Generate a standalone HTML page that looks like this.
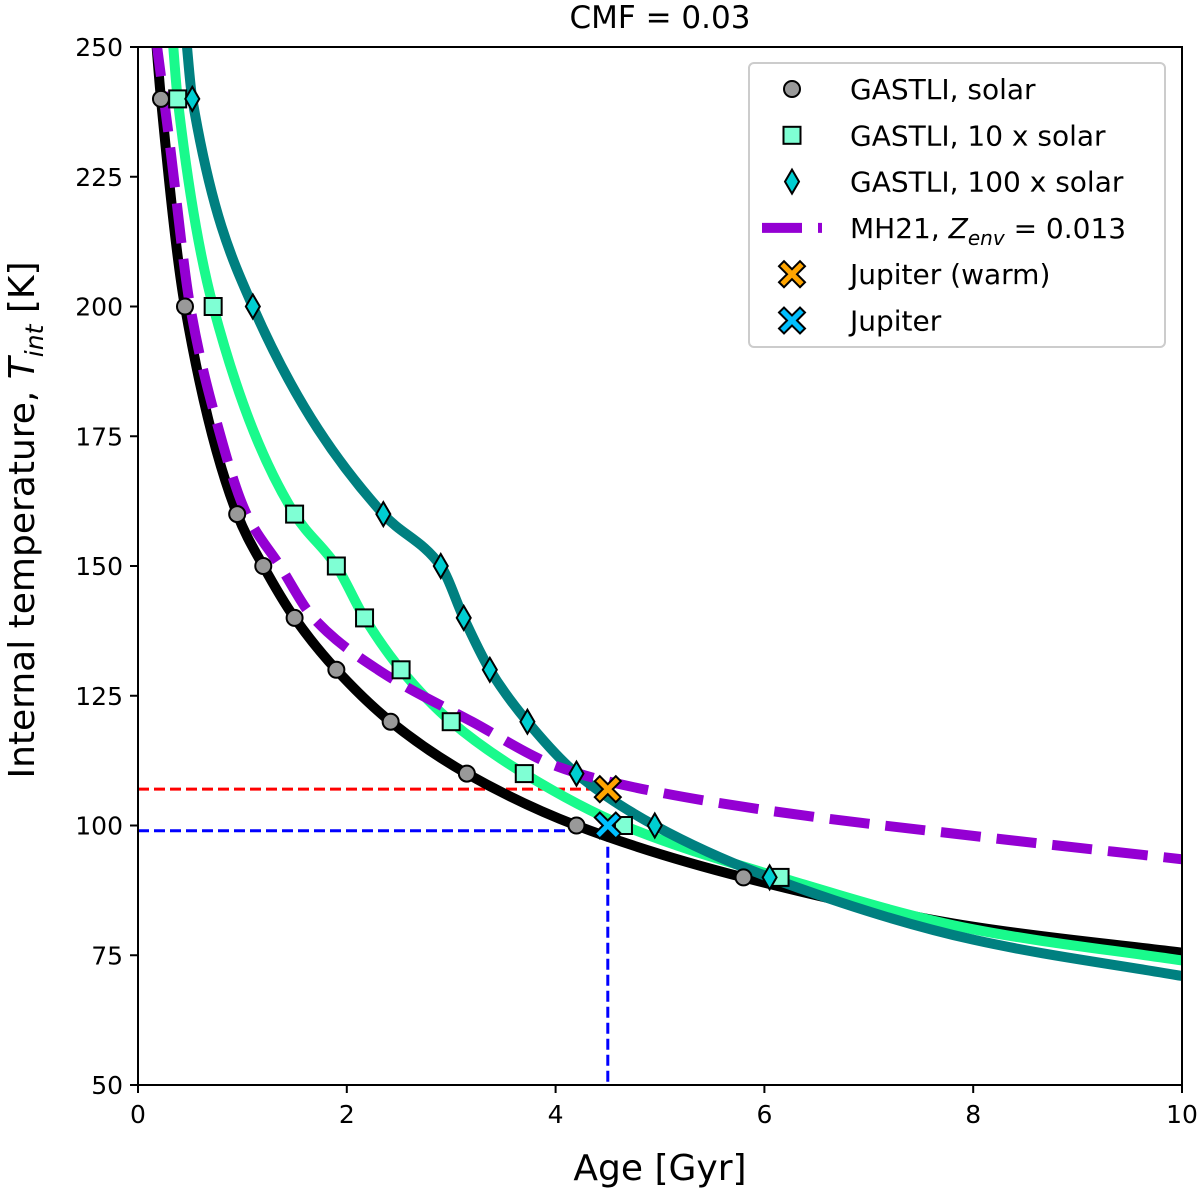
<!DOCTYPE html>
<html><head><meta charset="utf-8">
<style>
body{margin:0;background:#fff;}
svg{display:block;font-family:"DejaVu Sans","Liberation Sans",sans-serif;}
</style></head>
<body>
<svg id="chart" width="1200" height="1192" viewBox="0 0 1200 1192">
<defs><clipPath id="clip"><rect x="138" y="47" width="1044" height="1038"/></clipPath></defs>
<g id="plot" clip-path="url(#clip)"></g>
<g id="axes"></g>
<g id="legend"></g>
</svg>
<script>
// ---- data ----
const solarAge=[0.22,0.45,0.95,1.2,1.5,1.9,2.42,3.15,4.2,5.8];
const solarT=[240,200,160,150,140,130,120,110,100,90];
const x10Age=[0.38,0.72,1.5,1.9,2.17,2.52,3.0,3.7,4.65,6.15];
const x10T=[240,200,160,150,140,130,120,110,100,90];
const x100Age=[0.52,1.1,2.35,2.9,3.12,3.37,3.73,4.2,4.95,6.05];
const x100T=[240,200,160,150,140,130,120,110,100,90];
const solarLineAge=[0.17,0.22,0.45,0.95,1.2,1.5,1.9,2.42,3.15,4.2,5.8,8,10];
const solarLineT=[252,240,200,160,150,140,130,120,110,100,90,80.5,75.5];
const x10LineAge=[0.33,0.38,0.72,1.5,1.9,2.17,2.52,3.0,3.7,4.65,6.15,8,10];
const x10LineT=[252,240,200,160,150,140,130,120,110,100,90,80,74];
const x100LineAge=[0.46,0.52,1.1,2.35,2.9,3.12,3.37,3.73,4.2,4.95,6.05,8,10];
const x100LineT=[252,240,200,160,150,140,130,120,110,100,90,78,71];
const mhAge=[0.17,0.3,0.5,0.75,1.04,1.36,1.68,2.3,3.2,4,4.5,6,8,10];
const mhT=[252,232,200,178,160,150,140,130,120,111.5,108.5,103,98,93.5];
const jupAge=[4.5], jupWarmT=[107], jupT=[100];
const refAge=4.5, refWarm=107, refCold=99;
const xTicks=[0,2,4,6,8,10];
const yTicks=[50,75,100,125,150,175,200,225,250];

const NS="http://www.w3.org/2000/svg";
const X=v=>138+v*104.4;
const Y=v=>1085-(v-50)*5.19;
function mk(tag,attrs,parent){const e=document.createElementNS(NS,tag);for(const k in attrs)e.setAttribute(k,attrs[k]);parent.appendChild(e);return e;}
function smooth(ax,ay){
  const x=ax.map(X), y=ay.map(Y), n=x.length;
  const d=[],m=[];
  for(let i=0;i<n-1;i++)d.push((y[i+1]-y[i])/(x[i+1]-x[i]));
  m[0]=d[0];m[n-1]=d[n-2];
  for(let i=1;i<n-1;i++){
    if(d[i-1]*d[i]<=0)m[i]=0;
    else{const h0=x[i]-x[i-1],h1=x[i+1]-x[i];const w1=2*h1+h0,w2=h1+2*h0;m[i]=(w1+w2)/(w1/d[i-1]+w2/d[i]);}
  }
  let p="M"+x[0]+","+y[0];
  for(let i=0;i<n-1;i++){
    const h=(x[i+1]-x[i])/3;
    p+=` C${x[i]+h},${y[i]+m[i]*h} ${x[i+1]-h},${y[i+1]-m[i+1]*h} ${x[i+1]},${y[i+1]}`;
  }
  return p;
}
const plot=document.getElementById('plot');
const axes=document.getElementById('axes');
const leg=document.getElementById('legend');

let e=mk('line',{x1:X(0),x2:X(refAge),y1:Y(refWarm),y2:Y(refWarm),stroke:'#ff0000','stroke-width':3,'stroke-dasharray':'11 5'},plot);


e=mk('line',{x1:X(0),x2:X(refAge),y1:Y(refCold),y2:Y(refCold),stroke:'#0000ff','stroke-width':3,'stroke-dasharray':'11 5'},plot);


e=mk('line',{x1:X(refAge),x2:X(refAge),y1:Y(refCold),y2:Y(50),stroke:'#0000ff','stroke-width':3,'stroke-dasharray':'11 5'},plot);



e=mk('path',{d:smooth(solarLineAge,solarLineT),fill:'none',stroke:'#000','stroke-width':10},plot);


e=mk('path',{d:smooth(x10LineAge,x10LineT),fill:'none',stroke:'#19fa8c','stroke-width':10},plot);


e=mk('path',{d:smooth(x100LineAge,x100LineT),fill:'none',stroke:'#008080','stroke-width':10},plot);


e=mk('path',{d:smooth(mhAge,mhT),fill:'none',stroke:'#9400d3','stroke-width':10,'stroke-dasharray':'40 16'},plot);



function circle(cx,cy,p){return mk('circle',{cx:cx,cy:cy,r:8,fill:'#999','stroke':'#000','stroke-width':2},p);}
function square(cx,cy,p){return mk('rect',{x:cx-8.5,y:cy-8.5,width:17,height:17,fill:'#7fffd4',stroke:'#000','stroke-width':2},p);}
function diamond(cx,cy,p){return mk('path',{d:`M${cx},${cy-12} L${cx+7},${cy} L${cx},${cy+12} L${cx-7},${cy} Z`,fill:'#00ced1',stroke:'#000','stroke-width':2},p);}
function xmark(cx,cy,col,p){const s=8,w=5;return mk('path',{d:`M${cx-s-w},${cy-s} L${cx-s},${cy-s-w} L${cx},${cy-w} L${cx+s},${cy-s-w} L${cx+s+w},${cy-s} L${cx+w},${cy} L${cx+s+w},${cy+s} L${cx+s},${cy+s+w} L${cx},${cy+w} L${cx-s},${cy+s+w} L${cx-s-w},${cy+s} L${cx-w},${cy} Z`,fill:col,stroke:'#000','stroke-width':2},p);}

solarAge.forEach((a,i)=>{const m=circle(X(a),Y(solarT[i]),plot);

});
x10Age.forEach((a,i)=>{const m=square(X(a),Y(x10T[i]),plot);

});
x100Age.forEach((a,i)=>{const m=diamond(X(a),Y(x100T[i]),plot);

});
jupAge.forEach((a,i)=>{
 let m=xmark(X(a),Y(jupWarmT[i]),'#ffa500',plot);
 
 
 m=xmark(X(a),Y(jupT[i]),'#00bfff',plot);
 
 
});

e=mk('rect',{x:138,y:47,width:1044,height:1038,fill:'none',stroke:'#000','stroke-width':2},axes);


xTicks.forEach(t=>{
 mk('line',{x1:X(t),x2:X(t),y1:1085,y2:1093,stroke:'#000','stroke-width':2},axes);
 const l=mk('text',{x:X(t),y:1123,'text-anchor':'middle','font-size':25},axes);l.textContent=t;
 
 
});
yTicks.forEach(t=>{
 mk('line',{x1:130,x2:138,y1:Y(t),y2:Y(t),stroke:'#000','stroke-width':2},axes);
 const l=mk('text',{x:123,y:Y(t)+9,'text-anchor':'end','font-size':25},axes);l.textContent=t;
 
 
});
e=mk('text',{x:660,y:1180,'text-anchor':'middle','font-size':36},axes);e.textContent='Age [Gyr]';


e=mk('text',{x:0,y:0,transform:'translate(34,520) rotate(-90)','text-anchor':'middle','font-size':36},axes);
e.innerHTML='Internal temperature, <tspan font-style="italic">T</tspan><tspan font-style="italic" font-size="25" dy="9">int</tspan><tspan dy="-9"> [K]</tspan>';


e=mk('text',{x:660,y:28,'text-anchor':'middle','font-size':31},axes);e.textContent='CMF = 0.03';



e=mk('rect',{x:749,y:63,width:416,height:284,rx:5,fill:'#fff',stroke:'#ccc','stroke-width':2},leg);


const labels=['GASTLI, solar','GASTLI, 10 x solar','GASTLI, 100 x solar','MH21','Jupiter (warm)','Jupiter'];
labels.forEach((s,i)=>{
 const cy=89+i*46.3, cx=792;
 let m;
 if(i==0)m=circle(cx,cy,leg);
 else if(i==1)m=square(cx,cy,leg);
 else if(i==2)m=diamond(cx,cy,leg);
 else if(i==3)m=mk('line',{x1:762,x2:822,y1:cy,y2:cy,stroke:'#9400d3','stroke-width':10,'stroke-dasharray':'40 16'},leg);
 else m=xmark(cx,cy,i==4?'#ffa500':'#00bfff',leg);
 
 
 const t=mk('text',{x:850,y:cy+10,'font-size':28},leg);
 if(i==3)t.innerHTML='MH21, <tspan font-style="italic">Z</tspan><tspan font-style="italic" font-size="20" dy="7">env</tspan><tspan dy="-7"> = 0.013</tspan>';
 else t.textContent=s;
 
 
});
</script>
</body></html>
